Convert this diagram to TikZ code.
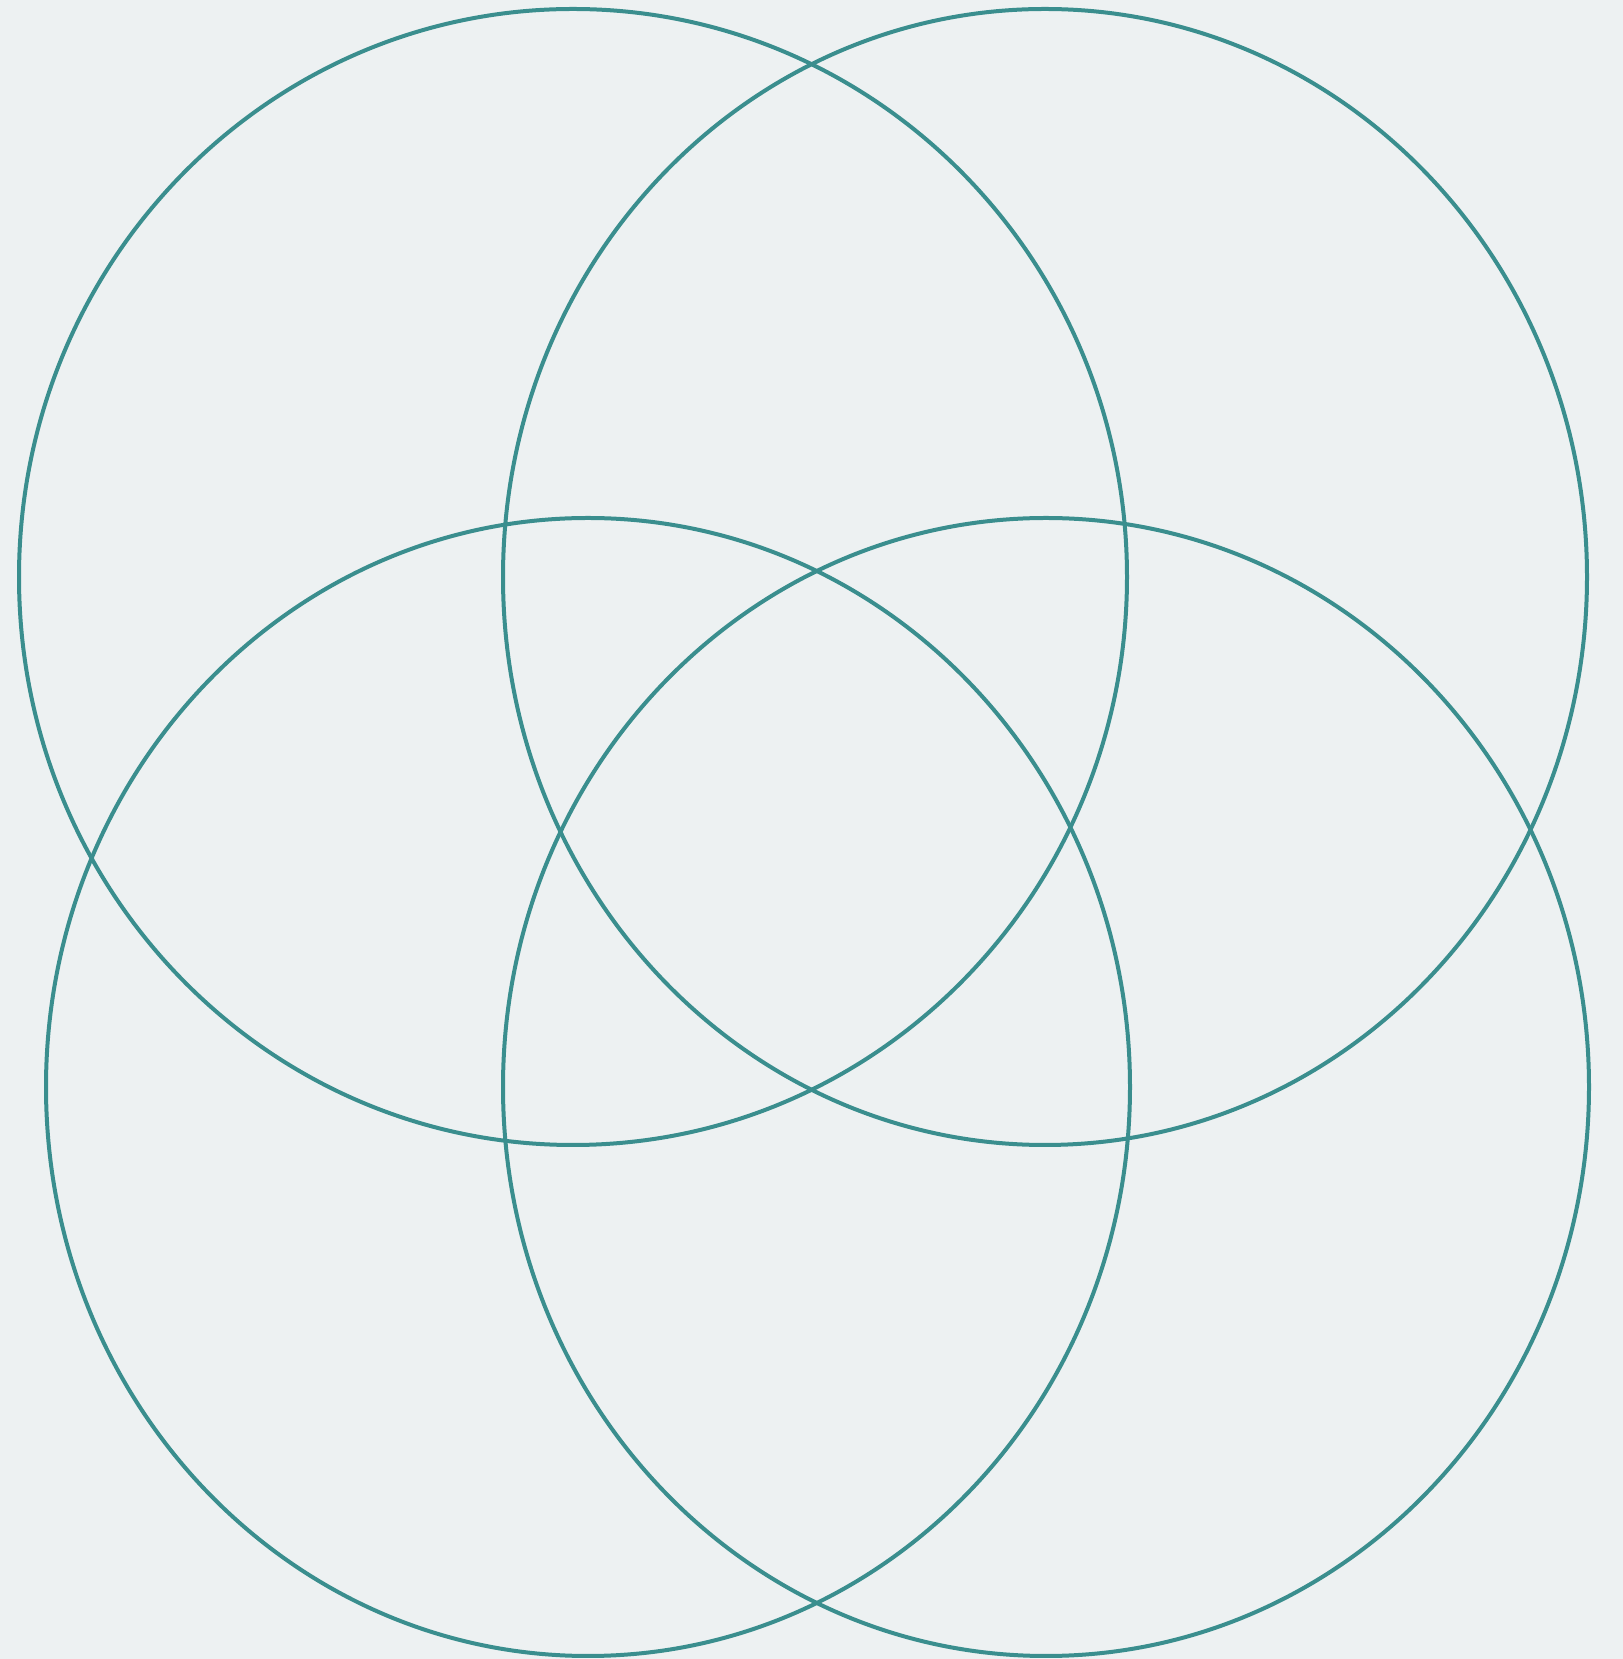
\documentclass[tikz,border=0pt]{standalone}
\definecolor{paper}{HTML}{EDF1F2}
\definecolor{ring}{HTML}{3A8E8E}
\begin{document}
\begin{tikzpicture}[ringline/.style={draw=ring,line width=0.04cm}]
    \fill[paper] (0,0) rectangle (16.23,16.59);
    \useasboundingbox (0,0) rectangle (16.23,16.59);
    \draw[ringline] (5.73,10.82) ellipse [x radius=5.54, y radius=5.68];
    \draw[ringline] (10.45,10.82) ellipse [x radius=5.42, y radius=5.68];
    \draw[ringline] (5.88,5.72) ellipse [x radius=5.42, y radius=5.69];
    \draw[ringline] (10.46,5.72) ellipse [x radius=5.43, y radius=5.69];
  \end{tikzpicture}
\end{document}
